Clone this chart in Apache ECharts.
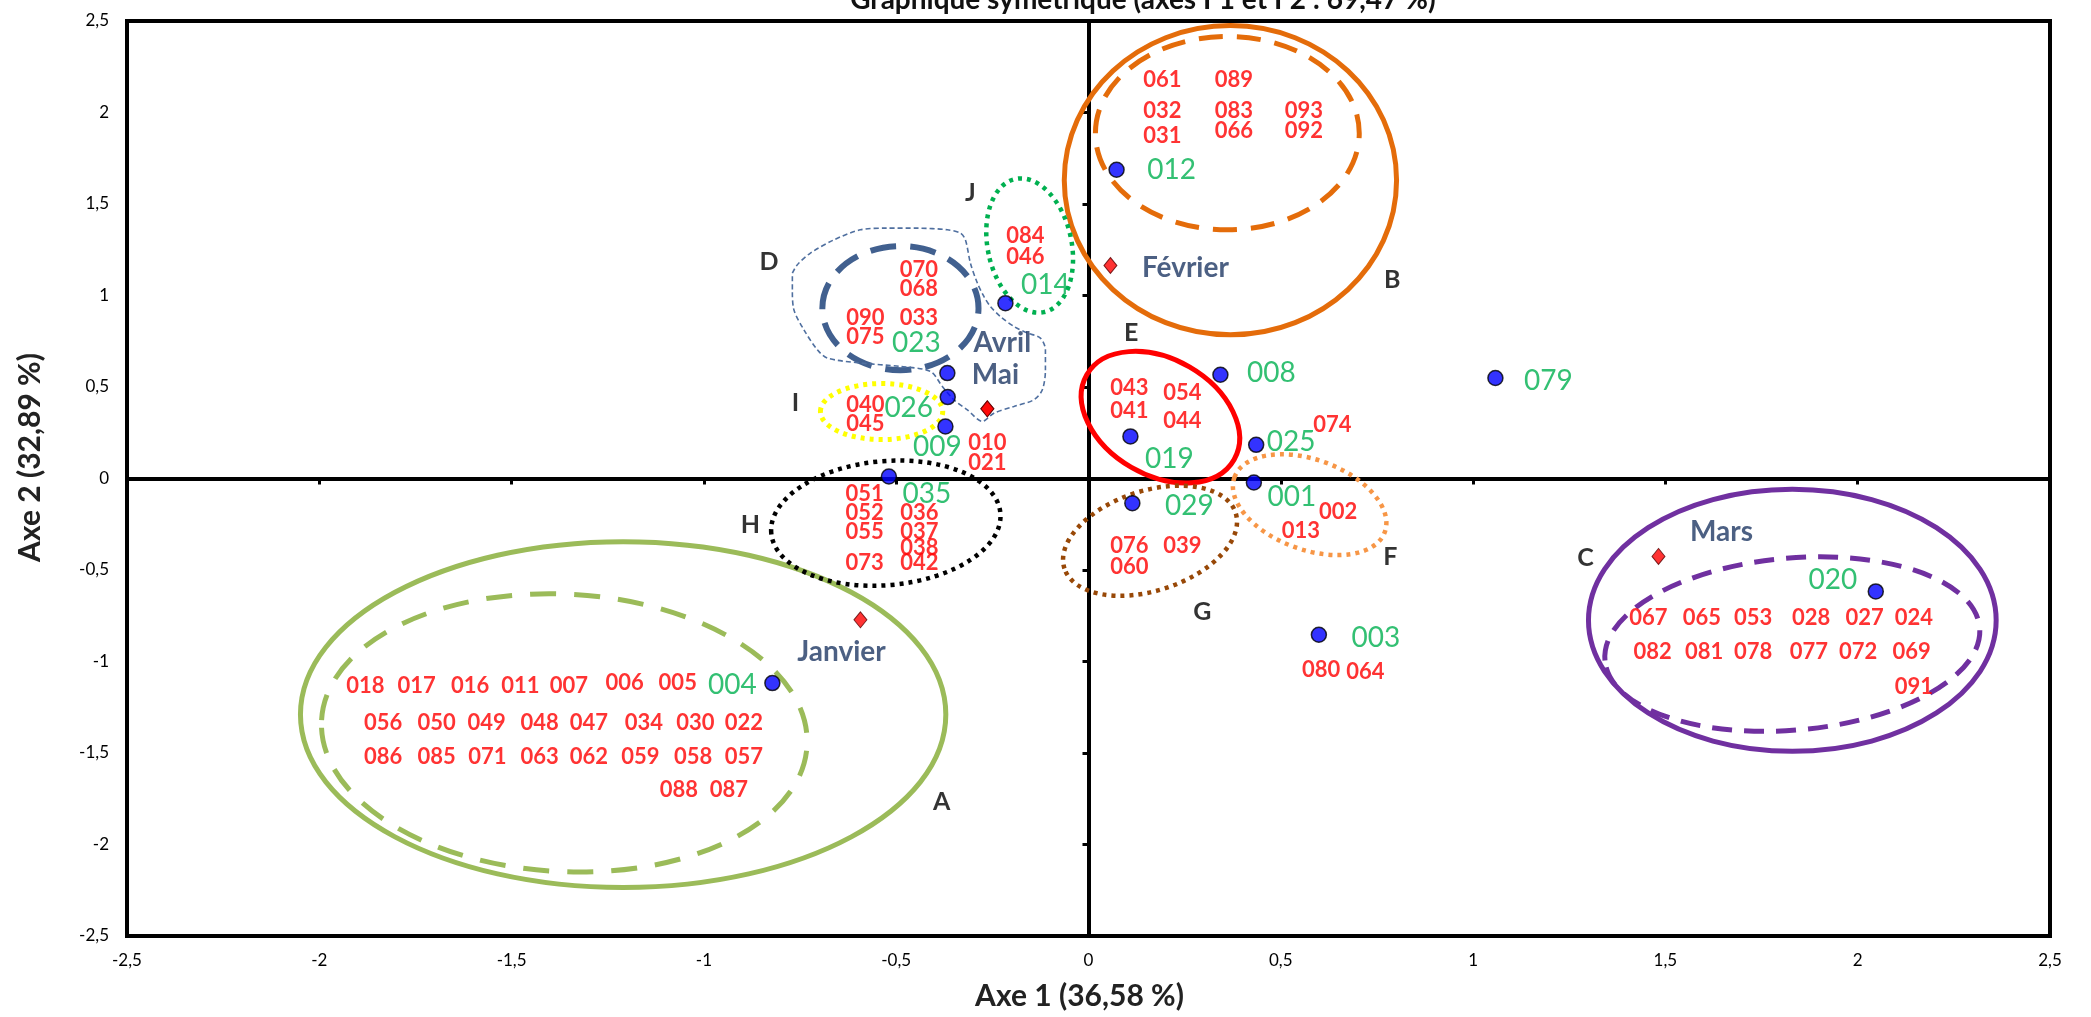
<!DOCTYPE html>
<html>
<head>
<meta charset="utf-8">
<title>Graphique symétrique</title>
<script src="https://cdn.jsdelivr.net/npm/echarts@6/dist/echarts.min.js"></script>
<style>
   html, body { margin: 0; padding: 0; background: #fff; }
   #chart { width: 2091px; height: 1017px; }
</style>
</head>
<body>
<div id="chart"></div>
<script>
   // individus avec marqueur (points bleus, étiquettes vertes)
   var pointIds = ['012', '014', '023', '026', '009', '008', '079', '025', '019', '001', '029', '003', '020', '004', '035'];
   var pointX = [0.073, -0.216, -0.367, -0.366, -0.372, 0.343, 1.058, 0.436, 0.109, 0.430, 0.114, 0.599, 2.047, -0.822, -0.519];
   var pointY = [1.687, 0.958, 0.576, 0.445, 0.284, 0.567, 0.549, 0.184, 0.230, -0.022, -0.135, -0.854, -0.617, -1.118, 0.011];

   // mois (losanges rouges)
   var monthNames = ['Janvier', 'Février', 'Mars', 'Avril', 'Mai'];
   var monthX = [-0.593, 0.057, 1.482, -0.263, -0.263];
   var monthY = [-0.772, 1.164, -0.426, 0.381, 0.381];

   // étiquettes rouges
   var textIds = [
      '061', '089', '032', '083', '093', '031', '066', '092',
      '084', '046',
      '070', '068', '090', '033', '075',
      '040', '045', '010', '021',
      '043', '054', '041', '044', '074', '002', '013',
      '076', '039', '060',
      '051', '052', '036', '055', '037', '038', '073', '042',
      '080', '064',
      '067', '065', '053', '028', '027', '024',
      '082', '081', '078', '077', '072', '069', '091',
      '018', '017', '016', '011', '007', '006', '005',
      '056', '050', '049', '048', '047', '034', '030', '022',
      '086', '085', '071', '063', '062', '059', '058', '057',
      '088', '087'
   ];
   var textX = [
      0.192, 0.378, 0.192, 0.378, 0.560, 0.192, 0.378, 0.560,
      -0.164, -0.164,
      -0.441, -0.441, -0.580, -0.441, -0.580,
      -0.580, -0.580, -0.263, -0.263,
      0.106, 0.244, 0.106, 0.244, 0.634, 0.649, 0.552,
      0.106, 0.244, 0.106,
      -0.582, -0.582, -0.440, -0.582, -0.440, -0.440, -0.582, -0.440,
      0.605, 0.720,
      1.456, 1.595, 1.728, 1.879, 2.018, 2.146,
      1.467, 1.601, 1.728, 1.873, 2.001, 2.140, 2.146,
      -1.880, -1.747, -1.608, -1.477, -1.351, -1.206, -1.068,
      -1.834, -1.695, -1.565, -1.427, -1.299, -1.156, -1.022, -0.896,
      -1.834, -1.695, -1.563, -1.427, -1.299, -1.165, -1.028, -0.896,
      -1.065, -0.935
   ];
   var textY = [
      2.179, 2.179, 2.006, 2.006, 2.006, 1.873, 1.900, 1.900,
      1.326, 1.213,
      1.140, 1.037, 0.877, 0.877, 0.776,
      0.403, 0.299, 0.193, 0.084,
      0.494, 0.467, 0.372, 0.312, 0.293, -0.180, -0.286,
      -0.368, -0.368, -0.484,
      -0.084, -0.189, -0.189, -0.290, -0.290, -0.380, -0.459, -0.462,
      -1.045, -1.055,
      -0.763, -0.763, -0.763, -0.763, -0.763, -0.763,
      -0.945, -0.945, -0.945, -0.945, -0.945, -0.945, -1.137,
      -1.133, -1.133, -1.133, -1.133, -1.133, -1.118, -1.118,
      -1.333, -1.333, -1.333, -1.333, -1.333, -1.333, -1.333, -1.333,
      -1.519, -1.519, -1.519, -1.519, -1.519, -1.519, -1.519, -1.519,
      -1.701, -1.701
   ];

   // lettres des groupes
   var groupNames = ['A', 'B', 'C', 'D', 'E', 'F', 'G', 'H', 'I', 'J'];
   var groupX = [-0.382, 0.790, 1.292, -0.831, 0.111, 0.785, 0.296, -0.879, -0.762, -0.307];
   var groupY = [-1.765, 1.086, -0.435, 1.186, 0.796, -0.426, -0.727, -0.253, 0.415, 1.561];

   // ellipses des groupes : centre, demi-axes, inclinaison (degrés)
   var ellipseNames = ['A', 'A2', 'B', 'B2', 'C', 'C2', 'D', 'E', 'F', 'G', 'H', 'I', 'J'];
   var ellipseCX = [-1.210, -1.363, 0.369, 0.361, 1.830, 1.830, -0.489, 0.187, 0.575, 0.160, -0.527, -0.538, -0.153];
   var ellipseCY = [-1.290, -1.390, 1.630, 1.887, -0.775, -0.905, 0.931, 0.335, -0.143, -0.340, -0.244, 0.366, 1.273];
   var ellipseRX = [0.839, 0.632, 0.432, 0.343, 0.530, 0.489, 0.203, 0.221, 0.208, 0.234, 0.299, 0.159, 0.109];
   var ellipseRY = [0.945, 0.758, 0.845, 0.528, 0.716, 0.470, 0.339, 0.317, 0.246, 0.273, 0.339, 0.153, 0.372];
   var ellipseRot = [0, -3, 0, 0, 0, 5, 0, -30, -20, 18, 5, 0, 12];

   // contour libre du groupe D
   var blobX = [-0.770, -0.757, -0.723, -0.662, -0.593, -0.523, -0.445, -0.367, -0.333, -0.320, -0.307, -0.289, -0.272, -0.255, -0.229, -0.194, -0.159, -0.125, -0.112, -0.112, -0.120, -0.142, -0.194, -0.246, -0.276, -0.315, -0.350, -0.380, -0.411, -0.489, -0.593, -0.679, -0.705, -0.740, -0.766, -0.770, -0.770];
   var blobY = [1.122, 1.168, 1.232, 1.304, 1.359, 1.368, 1.368, 1.359, 1.341, 1.304, 1.177, 1.068, 0.995, 0.940, 0.885, 0.831, 0.795, 0.767, 0.703, 0.594, 0.485, 0.430, 0.394, 0.357, 0.312, 0.375, 0.430, 0.503, 0.585, 0.612, 0.631, 0.658, 0.703, 0.813, 0.922, 1.031, 1.122];

   var FONT = 'Lato';
   var DOT = [4, 5];

   // styles des ellipses, dans l'ordre de ellipseNames
   var ellipseStyles = [
      {color: '#9bbb59', width: 5, dash: null},
      {color: '#9bbb59', width: 5, dash: [26, 18]},
      {color: '#e46c0a', width: 5, dash: null},
      {color: '#e46c0a', width: 5, dash: [24, 14]},
      {color: '#7030a0', width: 5, dash: null},
      {color: '#7030a0', width: 5, dash: [20, 12]},
      {color: '#41608f', width: 6, dash: [26, 14]},
      {color: '#ff0000', width: 5, dash: null},
      {color: '#f79646', width: 4.5, dash: DOT},
      {color: '#984807', width: 4.5, dash: DOT},
      {color: '#000000', width: 4.5, dash: DOT},
      {color: '#ffff00', width: 5, dash: DOT},
      {color: '#00b050', width: 4.5, dash: DOT}
   ];

   // décalage des étiquettes (pixels) par rapport au point
   var pointLabelOffset = {
      '012': [55, 0], '014': [40, -18], '023': [-31, -30], '026': [-39, 11], '009': [-8, 20],
      '008': [51, -2], '079': [53, 3], '025': [35, -3], '019': [39, 23], '001': [38, 14],
      '029': [57, 3], '003': [57, 3], '020': [-43, -11], '004': [-40, 2], '035': [38, 17]
   };
   var monthLabelOffset = {
      'Janvier': [-19, 32], 'Février': [75, 2], 'Mars': [63, -24], 'Avril': [15, -66], 'Mai': [8, -34]
   };

   function fmt(v){
      return String(v).replace('.', ',');
   }

   var myChart = echarts.init(document.getElementById('chart'));

   var axisBase = {
      type: 'value',
      min: -2.5,
      max: 2.5,
      interval: 0.5,
      splitLine: {show: false}
   };

   var option = {
      animation: false,
      backgroundColor: '#fff',
      title: {
         text: 'Graphique symétrique (axes F1 et F2 : 69,47 %)',
         left: 1138,
         top: -19,
         textAlign: 'center',
         textStyle: {fontFamily: FONT, fontSize: 28, fontWeight: 'bold', color: '#111'}
      },
      grid: {
         left: 127,
         right: 41,
         top: 21,
         bottom: 81,
         show: true,
         borderColor: '#000',
         borderWidth: 4
      },
      xAxis: [
         Object.assign({}, axisBase, {
            position: 'bottom',
            axisLine: {show: false, onZero: false},
            axisTick: {show: false},
            axisLabel: {formatter: fmt, margin: 16, fontFamily: FONT, fontSize: 17, color: '#000'},
            name: 'Axe 1 (36,58 %)',
            nameLocation: 'middle',
            nameGap: 45,
            nameTextStyle: {fontFamily: FONT, fontSize: 30, fontWeight: 'bold', color: '#222', padding: [0, 18, 0, 0]}
         }),
         Object.assign({}, axisBase, {
            position: 'bottom',
            axisLine: {show: true, onZero: true, onZeroAxisIndex: 0, lineStyle: {color: '#000', width: 4}},
            axisTick: {show: true, length: 6, lineStyle: {color: '#000', width: 3}},
            axisLabel: {show: false}
         })
      ],
      yAxis: [
         Object.assign({}, axisBase, {
            position: 'left',
            axisLine: {show: false, onZero: false},
            axisTick: {show: false},
            axisLabel: {formatter: fmt, margin: 18, fontFamily: FONT, fontSize: 17, color: '#000'},
            name: 'Axe 2 (32,89 %)',
            nameLocation: 'middle',
            nameGap: 82,
            nameTextStyle: {fontFamily: FONT, fontSize: 30, fontWeight: 'bold', color: '#222', padding: [0, 0, 0, 42]}
         }),
         Object.assign({}, axisBase, {
            position: 'left',
            axisLine: {show: true, onZero: true, onZeroAxisIndex: 0, lineStyle: {color: '#000', width: 4}},
            axisTick: {show: true, length: 6, lineStyle: {color: '#000', width: 3}},
            axisLabel: {show: false}
         })
      ],
      series: [
         // ellipses
         {
            type: 'custom',
            xAxisIndex: 0,
            yAxisIndex: 0,
            z: 3,
            silent: true,
            renderItem: function(params, api){
               var c = api.coord([api.value(0), api.value(1)]);
               var s = api.size([api.value(2), api.value(3)]);
               var st = ellipseStyles[params.dataIndex];
               return {
                  type: 'ellipse',
                  x: c[0],
                  y: c[1],
                  rotation: api.value(4) * Math.PI / 180,
                  shape: {cx: 0, cy: 0, rx: s[0], ry: s[1]},
                  style: {fill: 'none', stroke: st.color, lineWidth: st.width, lineDash: st.dash, lineCap: 'butt'}
               };
            },
            data: ellipseNames.map(function(n, i){
               return [ellipseCX[i], ellipseCY[i], ellipseRX[i], ellipseRY[i], ellipseRot[i]];
            })
         },
         // contour libre D
         {
            type: 'line',
            xAxisIndex: 0,
            yAxisIndex: 0,
            z: 3,
            symbol: 'none',
            smooth: 0.3,
            silent: true,
            lineStyle: {color: '#4f6f9f', width: 1.6, type: [5, 3]},
            data: blobX.map(function(x, i){ return [x, blobY[i]]; })
         },
         // étiquettes rouges
         {
            type: 'scatter',
            xAxisIndex: 0,
            yAxisIndex: 0,
            z: 4,
            symbolSize: 1,
            itemStyle: {color: 'rgba(0,0,0,0)'},
            label: {
               show: true,
               position: 'inside',
               formatter: function(p){ return p.data[2]; },
               fontFamily: FONT,
               fontSize: 22,
               fontWeight: 'bold',
               color: '#ff0000'
            },
            data: textIds.map(function(id, i){ return [textX[i], textY[i], id]; })
         },
         // lettres des groupes
         {
            type: 'scatter',
            xAxisIndex: 0,
            yAxisIndex: 0,
            z: 4,
            symbolSize: 1,
            itemStyle: {color: 'rgba(0,0,0,0)'},
            label: {
               show: true,
               position: 'inside',
               formatter: function(p){ return p.data[2]; },
               fontFamily: FONT,
               fontSize: 25,
               fontWeight: 'bold',
               color: '#000'
            },
            data: groupNames.map(function(g, i){ return [groupX[i], groupY[i], g]; })
         },
         // points bleus
         {
            type: 'scatter',
            xAxisIndex: 0,
            yAxisIndex: 0,
            z: 5,
            symbol: 'circle',
            symbolSize: 15,
            itemStyle: {color: '#0000ff', borderColor: '#000', borderWidth: 1.5},
            data: pointIds.map(function(id, i){
               return {
                  value: [pointX[i], pointY[i]],
                  name: id,
                  label: {offset: pointLabelOffset[id]}
               };
            }),
            label: {
               show: true,
               position: 'inside',
               formatter: '{b}',
               fontFamily: FONT,
               fontSize: 28,
               color: '#00b050'
            }
         },
         // mois
         {
            type: 'scatter',
            xAxisIndex: 0,
            yAxisIndex: 0,
            z: 5,
            symbol: 'diamond',
            symbolSize: [13, 16],
            itemStyle: {color: '#ff0000', borderColor: '#5a0000', borderWidth: 1},
            data: monthNames.map(function(m, i){
               return {
                  value: [monthX[i], monthY[i]],
                  name: m,
                  label: {offset: monthLabelOffset[m]}
               };
            }),
            label: {
               show: true,
               position: 'inside',
               formatter: '{b}',
               fontFamily: FONT,
               fontSize: 28,
               fontWeight: 'bold',
               color: '#1f3864'
            }
         }
      ]
   };

   myChart.setOption(option);
</script>
</body>
</html>
